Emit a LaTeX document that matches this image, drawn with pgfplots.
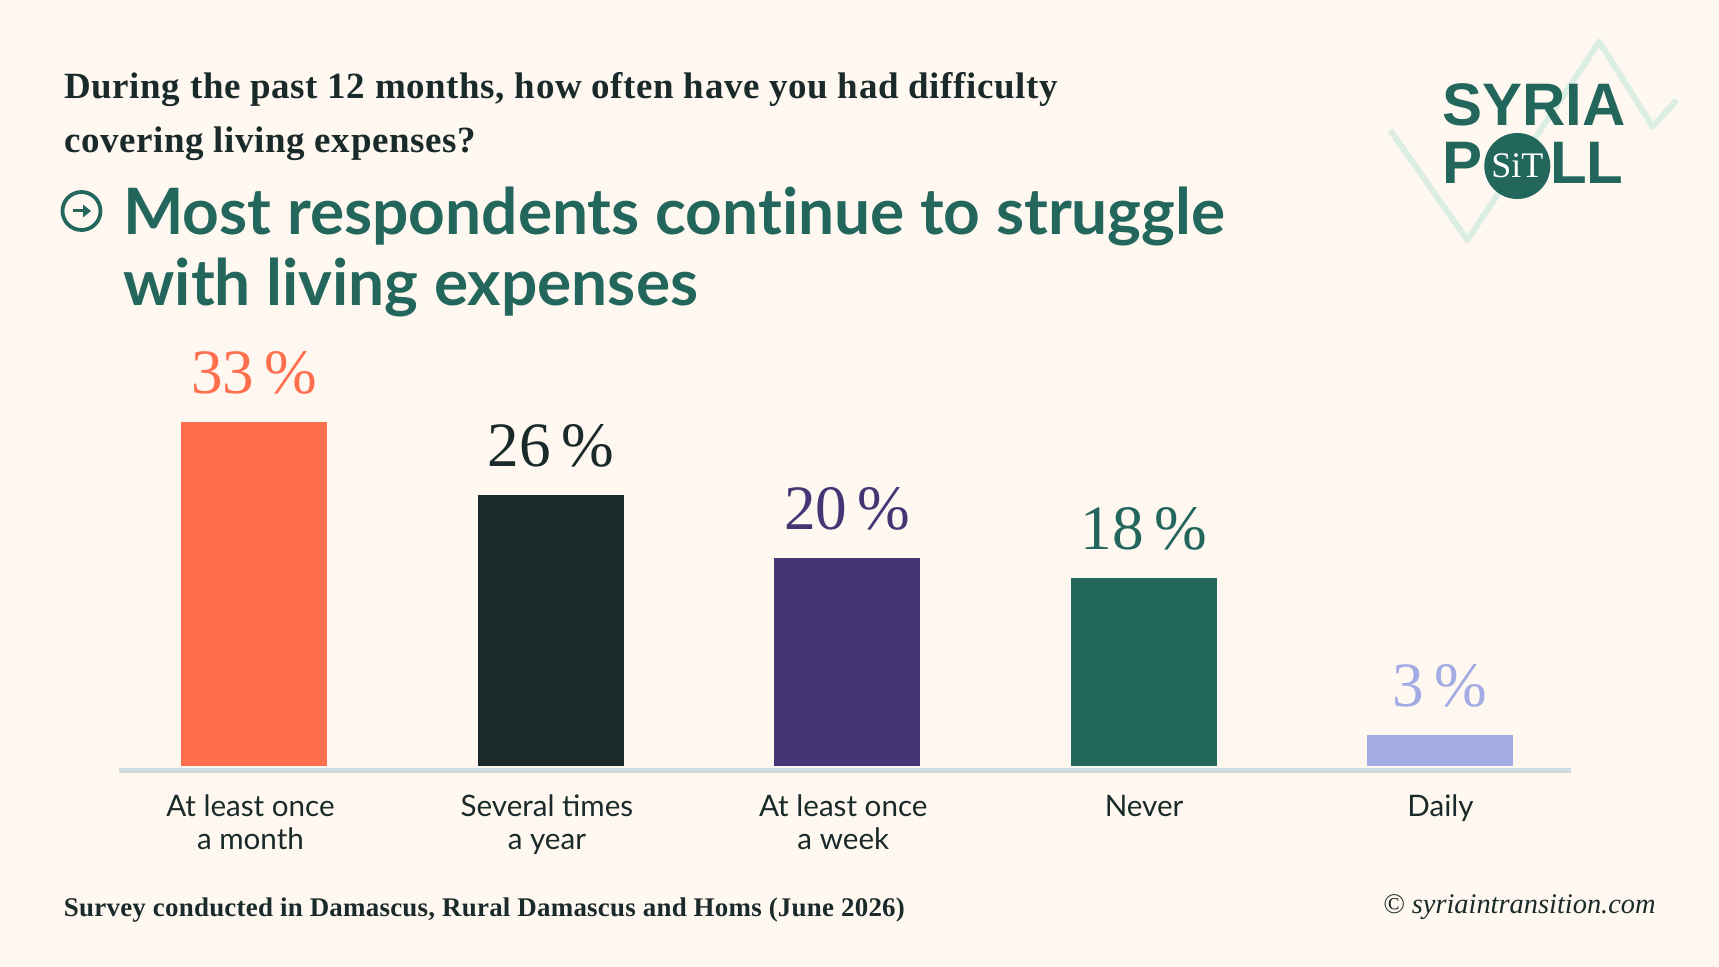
\documentclass[border=0pt]{standalone}
\usepackage{fontspec}
\usepackage{pgfplots}
\pgfplotsset{compat=1.18}
\setmainfont{Lato}
\newfontfamily\titlefont[Ligatures=NoCommon]{Lato}
\newfontfamily\qfont[LetterSpace=1.55]{Liberation Serif}
\newfontfamily\footfont[LetterSpace=0.9]{Liberation Serif}
\newfontfamily\numfont{Liberation Serif}
\newfontfamily\logofont{Liberation Sans}
\definecolor{bg}{HTML}{FFF8F1}
\definecolor{coral}{HTML}{FF6F4D}
\definecolor{ink}{HTML}{1A2A2A}
\definecolor{plum}{HTML}{443674}
\definecolor{pine}{HTML}{22665C}
\definecolor{peri}{HTML}{A2ABE3}
\definecolor{rule}{HTML}{D0DAE1}
\definecolor{zig}{HTML}{DCEDE3}
\pgfplotsset{
  valbar/.style={fill=#1, draw=none, bar shift=0pt, bar width=73pt,
    nodes near coords style={text=#1}},
}
\begin{document}
\begin{tikzpicture}[x=0.5pt,y=-0.5pt]
\fill[bg] (0,0) rectangle (1719,967);
\useasboundingbox (0,0) rectangle (1719,967);

\node[anchor=base west,inner sep=0pt,text=ink,font=\qfont\bfseries\fontsize{18.5}{20}\selectfont] at (64,99) {During the past 12 months, how often have you had difficulty};
\node[anchor=base west,inner sep=0pt,text=ink,font=\qfont\bfseries\fontsize{18.5}{20}\selectfont] at (64,153) {covering living expenses?};
\node[anchor=base west,inner sep=0pt,text=pine,font=\titlefont\bfseries\fontsize{32}{36}\selectfont] at (123,235) {Most respondents continue to struggle};
\node[anchor=base west,inner sep=0pt,text=pine,font=\titlefont\bfseries\fontsize{32}{36}\selectfont] at (123,306) {with living expenses};

% arrow icon
\draw[pine,line width=1.9pt] (81.5,211) circle (19);
\draw[pine,line width=1.5pt] (73,211) -- (86,211);
\fill[pine] (91,211) -- (83,204.5) -- (83,217.5) -- cycle;

\begin{axis}[
  at={(59.25pt,-385.35pt)}, anchor=south west,
  scale only axis, width=726.25pt, height=210.75pt,
  xmin=-0.4588, xmax=4.4416, ymin=-0.451, ymax=40,
  axis x line=bottom, axis y line=none,
  x axis line style={-, rule, line width=2.25pt},
  xtick={0,1,2,3,4},
  xticklabels={{At least once\\a month},{Several times\\a year},{At least once\\a week},{\hspace*{4.4pt}Never},{\hspace*{4.4pt}Daily}},
  major tick length=0pt,
  xticklabel style={align=center, text=ink, font=\fontsize{14.8}{16.5}\selectfont, yshift=-8.6pt, xshift=-2pt},
  clip=false,
  ybar,
  nodes near coords={\pgfmathprintnumber[assume math mode=true]{\pgfplotspointmeta}\,\%},
  every node near coord/.append style={anchor=base, yshift=14.3pt, font=\numfont\fontsize{31.6}{36}\selectfont},
]
\addplot[valbar=coral] coordinates {(0,33)};
\addplot[valbar=ink] coordinates {(1,26)};
\addplot[valbar=plum] coordinates {(2,20)};
\addplot[valbar=pine] coordinates {(3,18)};
\addplot[valbar=peri] coordinates {(4,3)};
\end{axis}

\node[anchor=base west,inner sep=0pt,text=ink,font=\footfont\bfseries\fontsize{13.47}{16}\selectfont] at (63.5,916) {Survey conducted in Damascus, Rural Damascus and Homs (June 2026)};
\node[anchor=base east,inner sep=0pt,text=ink,font=\numfont\itshape\fontsize{14.2}{16}\selectfont] at (1656,913.5) {© syriaintransition.com};

% logo
\draw[zig,line width=3pt,line join=round] (1390,130) -- (1467.3,240) -- (1599.3,41.7) -- (1652.7,126.7) -- (1676.7,100);
\node[anchor=base west,inner sep=0pt,text=pine,font=\logofont\bfseries\fontsize{30}{36}\selectfont] at (1442,126) {SYRIA};
\node[anchor=base west,inner sep=0pt,text=pine,font=\logofont\bfseries\fontsize{30}{36}\selectfont] at (1442,184) {P};
\node[anchor=base east,inner sep=0pt,text=pine,font=\logofont\bfseries\fontsize{30}{36}\selectfont] at (1624,184) {LL};
\fill[pine] (1517.3,166) circle (33);
\node[anchor=center,inner sep=0pt,text=white,font=\numfont\fontsize{18}{22}\selectfont] at (1517.3,166) {SiT};
\end{tikzpicture}
\end{document}
